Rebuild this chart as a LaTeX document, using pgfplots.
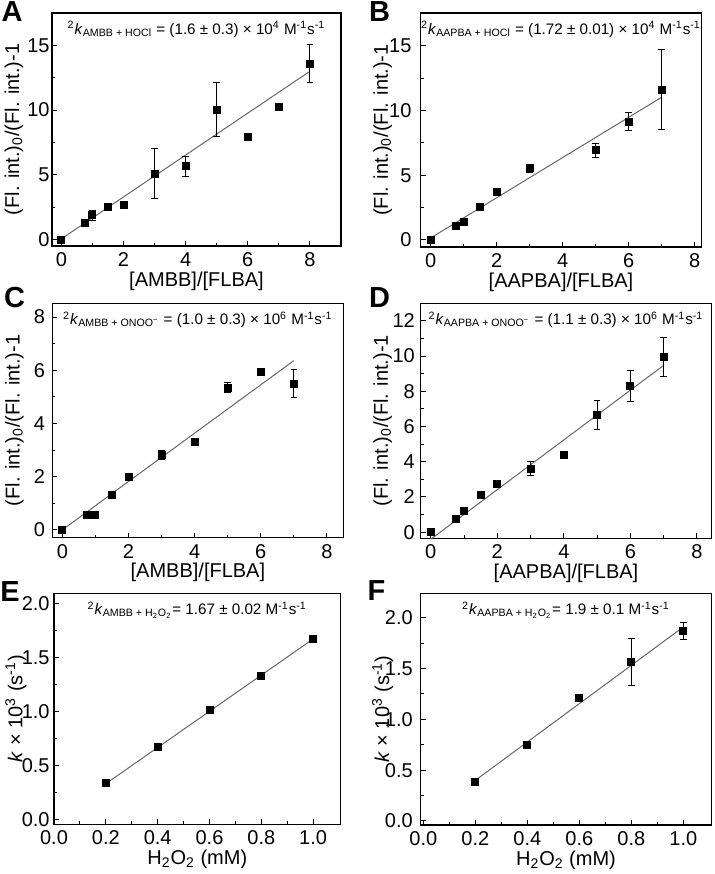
\documentclass[border=0pt]{standalone}
\usepackage{pgfplots}
\pgfplotsset{compat=1.18}
\usepackage{fontspec}
\setmainfont{Liberation Sans}
\pgfplotsset{
  panel/.style={scale only axis, anchor=south west,
    axis line style={line width=0.6pt},
    tick align=inside, xtick pos=bottom, ytick pos=left,
    major tick length=2.5pt, minor tick length=1.5pt,
    minor x tick num=1, minor y tick num=1,
    tick style={black, line width=0.5pt},
    ticklabel style={font=\fontsize{10}{12}\selectfont},
    xticklabel style={inner ysep=3.2pt},
    label style={font=\fontsize{10}{12}\selectfont},
    xlabel style={at={(rel axis cs:0.5,0)}, anchor=center, yshift=-17.5pt},
    ylabel style={at={(rel axis cs:0,0.5)}, anchor=center, rotate=0, yshift=19pt},
    /pgf/number format/assume math mode=true},
  dots/.style={only marks, mark=square*, mark size=1.75pt, black,
    error bars/.cd, y dir=both, y explicit,
    error bar style={line width=0.5pt, black},
    error mark options={rotate=90, mark size=1.6pt, line width=0.5pt, black}},
  fitl/.style={no marks, color=black!60, line width=0.5pt},
}
\tikzset{
  anno/.style={anchor=north, yshift=-3pt, font=\fontsize{7.6}{9}\selectfont, inner sep=1pt},
  lett/.style={font=\fontsize{14.5}{16}\selectfont\bfseries},
  dec/.style={/pgf/number format/fixed, /pgf/number format/fixed zerofill, /pgf/number format/precision=1}
}
\begin{document}
\begin{tikzpicture}
\useasboundingbox (0,0) rectangle (357pt,437pt);
% A
\begin{axis}[panel, at={(26pt,314pt)}, width=144.5pt, height=116.5pt,
  xmin=-0.3, xmax=9.0, ymin=-0.5, ymax=17.5,
  xtick={0,2,4,6,8}, ytick={0,5,10,15},
  yticklabel style={inner xsep=1pt},
  xlabel={[AMBB]/[FLBA]}, ylabel={(Fl. int.)\textsubscript{0}/(Fl. int.)-1}]
\addplot[fitl] coordinates {(0,0.05) (8,13.0)};
\addplot[dots] table[x=x,y=y,y error=e] {
x y e
0 0 0
0.75 1.3 0
1 1.88 0.4
1.5 2.53 0.25
2 2.71 0
3 5.1 1.95
4 5.65 0.75
5 10.05 2.1
6 7.95 0
7 10.26 0
8 13.6 1.5
};
\node[anno] at (rel axis cs:0.5,1) {\textsuperscript{2}\textit{k}\textsubscript{AMBB + HOCl} = (1.6 ± 0.3) × 10\textsuperscript{4} M\textsuperscript{-1}s\textsuperscript{-1}};
\end{axis}
% B
\begin{axis}[panel, at={(210.4pt,313.5pt)}, width=140.2pt, height=117pt,
  xmin=-0.3, xmax=8.2, ymin=-0.55, ymax=17.55,
  xtick={0,2,4,6,8}, ytick={0,5,10,15},
  yticklabel style={inner xsep=4.5pt},
  xlabel={[AAPBA]/[FLBA]}, ylabel={(Fl. int.)\textsubscript{0}/(Fl. int.)-1}]
\addplot[fitl] coordinates {(0,0.15) (7,11.03)};
\addplot[dots] table[x=x,y=y,y error=e] {
x y e
0 0 0
0.75 1.08 0
1 1.42 0
1.5 2.55 0
2 3.74 0
3 5.54 0.3
5 6.93 0.55
6 9.15 0.67
7 11.6 3.1
};
\node[anno] at (rel axis cs:0.5,1) {\textsuperscript{2}\textit{k}\textsubscript{AAPBA + HOCl} = (1.72 ± 0.01) × 10\textsuperscript{4} M\textsuperscript{-1}s\textsuperscript{-1}};
\end{axis}
% C
\begin{axis}[panel, at={(26.2pt,168.2pt)}, width=145.5pt, height=117.2pt,
  xmin=-0.3, xmax=8.5, ymin=-0.29, ymax=8.52,
  xtick={0,2,4,6,8}, ytick={0,2,4,6,8},
  yticklabel style={inner xsep=3.5pt},
  xlabel={[AMBB]/[FLBA]}, ylabel={(Fl. int.)\textsubscript{0}/(Fl. int.)-1}]
\addplot[fitl] coordinates {(0,0.0) (7,6.36)};
\addplot[dots] table[x=x,y=y,y error=e] {
x y e
0 0 0
0.75 0.58 0
1 0.58 0
1.5 1.3 0
2 2.0 0
3 2.81 0.17
4 3.3 0
5 5.35 0.18
6 5.92 0
7 5.5 0.52
};
\node[anno] at (rel axis cs:0.5,1) {\textsuperscript{2}\textit{k}\textsubscript{AMBB + ONOO\textsuperscript{−}} = (1.0 ± 0.3) × 10\textsuperscript{6} M\textsuperscript{-1}s\textsuperscript{-1}};
\end{axis}
% D
\begin{axis}[panel, at={(210.4pt,167.9pt)}, width=145.2pt, height=117.5pt,
  xmin=-0.3, xmax=8.43, ymin=-0.34, ymax=13.0,
  xtick={0,2,4,6,8}, ytick={0,2,4,6,8,10,12},
  yticklabel style={inner xsep=2.8pt},
  xlabel={[AAPBA]/[FLBA]}, ylabel={(Fl. int.)\textsubscript{0}/(Fl. int.)-1}]
\addplot[fitl] coordinates {(0,-0.4) (7,9.47)};
\addplot[dots] table[x=x,y=y,y error=e] {
x y e
0 0 0
0.75 0.74 0
1 1.19 0
1.5 2.12 0
2 2.72 0
3 3.61 0.38
4 4.39 0
5 6.65 0.82
6 8.32 0.88
7 9.94 1.1
};
\node[anno] at (rel axis cs:0.5,1) {\textsuperscript{2}\textit{k}\textsubscript{AAPBA + ONOO\textsuperscript{−}} = (1.1 ± 0.3) × 10\textsuperscript{6} M\textsuperscript{-1}s\textsuperscript{-1}};
\end{axis}
% E
\begin{axis}[panel, at={(27pt,24.9pt)}, width=143.3pt, height=115.5pt,
  xmin=0, xmax=1.106, ymin=-0.046, ymax=2.1,
  xtick={0,0.2,0.4,0.6,0.8,1.0}, ytick={0,0.5,1.0,1.5,2.0},
  xticklabel style={dec}, yticklabel style={dec, inner xsep=2pt},
  xlabel={H\textsubscript{2}O\textsubscript{2} (mM)}, ylabel={\textit{k} × 10\textsuperscript{3} (s\textsuperscript{-1})}]
\addplot[fitl] coordinates {(0.2,0.33) (1.0,1.675)};
\addplot[dots] table[x=x,y=y,y error=e] {
x y e
0.2 0.334 0
0.4 0.669 0
0.6 1.015 0
0.8 1.328 0
1.0 1.678 0
};
\node[anno] at (rel axis cs:0.5,1) {\textsuperscript{2}\textit{k}\textsubscript{AMBB + H\textsubscript{2}O\textsubscript{2}}= 1.67 ± 0.02 M\textsuperscript{-1}s\textsuperscript{-1}};
\end{axis}
% F
\begin{axis}[panel, at={(210.4pt,24.5pt)}, width=145.2pt, height=115.8pt,
  xmin=-0.01, xmax=1.107, ymin=-0.04, ymax=2.24,
  xtick={0,0.2,0.4,0.6,0.8,1.0}, ytick={0,0.5,1.0,1.5,2.0},
  xticklabel style={dec}, yticklabel style={dec, inner xsep=3.8pt},
  xlabel={H\textsubscript{2}O\textsubscript{2} (mM)}, ylabel={\textit{k} × 10\textsuperscript{3} (s\textsuperscript{-1})}]
\addplot[fitl] coordinates {(0.2,0.40) (1.0,1.91)};
\addplot[dots] table[x=x,y=y,y error=e] {
x y e
0.2 0.381 0
0.4 0.749 0
0.6 1.212 0
0.8 1.563 0.233
1.0 1.869 0.087
};
\node[anno] at (rel axis cs:0.5,1) {\textsuperscript{2}\textit{k}\textsubscript{AAPBA + H\textsubscript{2}O\textsubscript{2}}= 1.9 ± 0.1 M\textsuperscript{-1}s\textsuperscript{-1}};
\end{axis}
\node[lett] at (6pt,431pt) {A};
\node[lett] at (189.8pt,431pt) {B};
\node[lett] at (7.3pt,288.3pt) {C};
\node[lett] at (189.8pt,288.3pt) {D};
\node[lett] at (5pt,141.3pt) {E};
\node[lett] at (188.3pt,141.8pt) {F};
\end{tikzpicture}
\end{document}
